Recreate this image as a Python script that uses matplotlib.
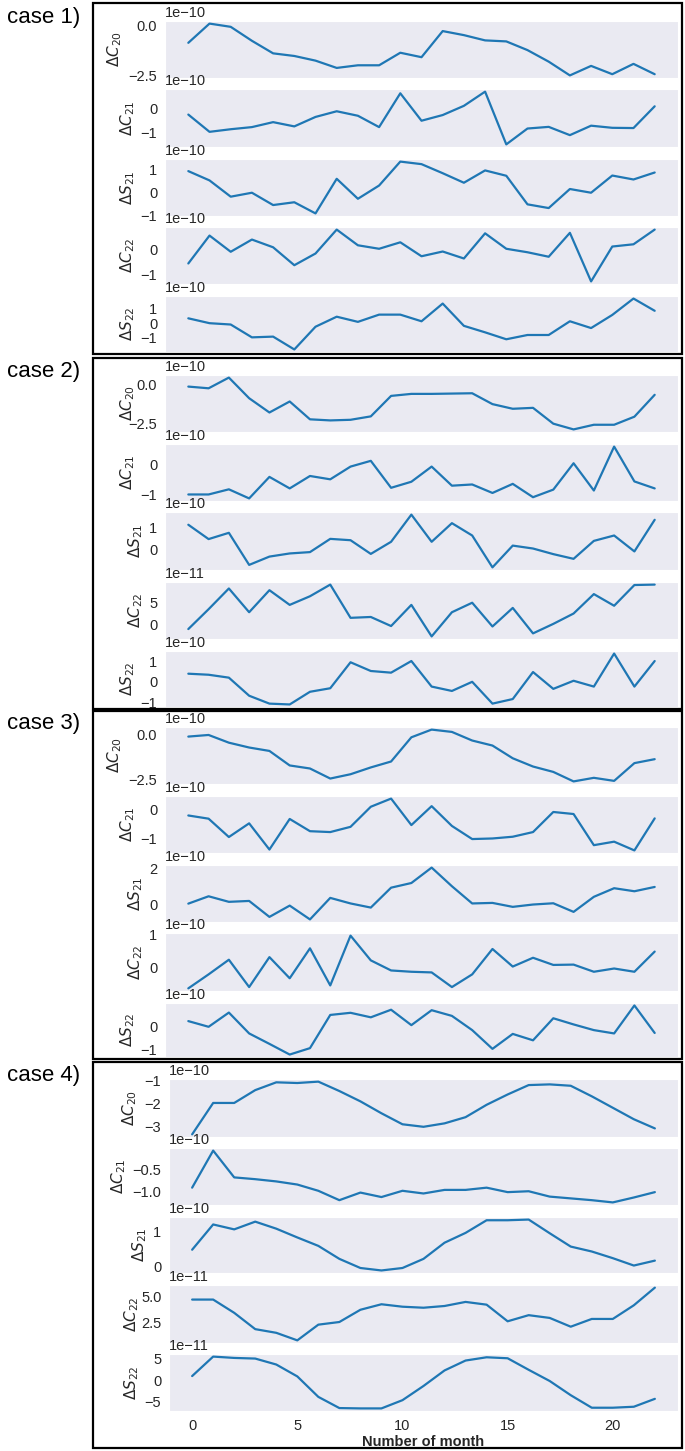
import matplotlib
matplotlib.use("Agg")
import matplotlib.pyplot as plt
import seaborn as sns
import numpy as np
from matplotlib.ticker import FixedLocator
from matplotlib.patches import Rectangle

sns.set_style("dark")
plt.rcParams['font.family'] = ['Liberation Sans', 'DejaVu Sans']

# ---------------- data (values in units of the offset shown on each axis) ----
coef_labels = [r'$\Delta C_{20}$', r'$\Delta C_{21}$', r'$\Delta S_{21}$',
               r'$\Delta C_{22}$', r'$\Delta S_{22}$']
case_names = ['case 1)', 'case 2)', 'case 3)', 'case 4)']

# case 1 (x 1e-10)
c1_C20 = [-0.87, 0.08, -0.08, -0.77, -1.39, -1.52, -1.75, -2.11, -1.98, -1.98, -1.36, -1.58,
          -0.29, -0.49, -0.75, -0.80, -1.23, -1.80, -2.48, -2.01, -2.42, -1.91, -2.42]
c1_C21 = [-0.24, -0.97, -0.86, -0.77, -0.56, -0.74, -0.34, -0.10, -0.29, -0.77, 0.66, -0.50,
          -0.26, 0.13, 0.73, -1.50, -0.83, -0.76, -1.11, -0.71, -0.80, -0.81, 0.11]
c1_S21 = [0.93, 0.53, -0.17, 0.00, -0.53, -0.41, -0.89, 0.60, -0.26, 0.31, 1.34, 1.23,
          0.84, 0.43, 0.96, 0.73, -0.50, -0.66, 0.16, 0.00, 0.74, 0.57, 0.87]
c1_C22 = [-0.56, 0.56, -0.09, 0.40, 0.09, -0.63, -0.16, 0.80, 0.17, 0.03, 0.29, -0.27,
          -0.08, -0.36, 0.65, 0.03, -0.11, -0.29, 0.67, -1.28, 0.12, 0.21, 0.80]
c1_S22 = [0.33, 0.00, -0.09, -0.96, -0.91, -1.78, -0.24, 0.44, 0.09, 0.58, 0.58, 0.13,
          1.33, -0.18, -0.62, -1.09, -0.80, -0.80, 0.13, -0.33, 0.56, 1.67, 0.84]

# case 2 (x 1e-10, C22 x 1e-11)
c2_C20 = [-0.15, -0.26, 0.43, -0.90, -1.82, -1.11, -2.26, -2.33, -2.29, -2.07, -0.75, -0.62,
          -0.62, -0.60, -0.58, -1.28, -1.58, -1.52, -2.54, -2.91, -2.61, -2.61, -2.09, -0.68]
c2_C21 = [-1.00, -1.00, -0.83, -1.13, -0.42, -0.80, -0.39, -0.50, -0.08, 0.11, -0.78, -0.58,
          -0.08, -0.71, -0.67, -0.95, -0.65, -1.09, -0.84, 0.03, -0.87, 0.58, -0.57, -0.80]
c2_S21 = [1.12, 0.48, 0.76, -0.67, -0.30, -0.16, -0.10, 0.49, 0.43, -0.18, 0.36, 1.57,
          0.36, 1.19, 0.64, -0.78, 0.19, 0.06, -0.19, -0.40, 0.40, 0.64, -0.07, 1.34]
c2_C22 = [-1.1, 3.5, 8.3, 2.8, 7.9, 4.5, 6.5, 9.2, 1.5, 1.7, -0.4, 4.5,
          -2.8, 2.8, 5.0, -0.5, 3.8, -2.1, 0.1, 2.5, 7.0, 4.3, 9.1, 9.2]
c2_S22 = [0.39, 0.34, 0.20, -0.67, -1.05, -1.09, -0.48, -0.31, 0.94, 0.52, 0.44, 1.00,
          -0.23, -0.44, 0.00, -1.05, -0.83, 0.47, -0.34, 0.05, -0.23, 1.36, -0.23, 1.00]

# case 3 (x 1e-10)
c3_C20 = [-0.09, 0.00, -0.43, -0.70, -0.89, -1.70, -1.87, -2.43, -2.19, -1.81, -1.48, -0.13,
          0.30, 0.17, -0.31, -0.59, -1.30, -1.76, -2.06, -2.59, -2.39, -2.56, -1.57, -1.35]
c3_C21 = [-0.21, -0.32, -0.95, -0.48, -1.38, -0.33, -0.75, -0.78, -0.60, 0.09, 0.37, -0.54,
          0.11, -0.57, -1.02, -1.00, -0.94, -0.78, -0.09, -0.16, -1.23, -1.11, -1.41, -0.31]
c3_S21 = [0.05, 0.46, 0.15, 0.20, -0.69, -0.06, -0.83, 0.37, 0.06, -0.17, 0.94, 1.20,
          2.06, 1.02, 0.06, 0.09, -0.13, 0.00, 0.07, -0.41, 0.43, 0.91, 0.74, 0.98]
c3_C22 = [-0.65, -0.22, 0.23, -0.61, 0.31, -0.34, 0.58, -0.56, 0.97, 0.21, -0.10, -0.14,
          -0.16, -0.61, -0.22, 0.56, 0.02, 0.29, 0.07, 0.08, -0.14, -0.04, -0.14, 0.48]
c3_S22 = [0.21, -0.03, 0.57, -0.31, -0.75, -1.20, -0.93, 0.47, 0.56, 0.37, 0.69, 0.04,
          0.67, 0.43, -0.17, -0.96, -0.33, -0.60, 0.33, 0.07, -0.17, -0.31, 0.87, -0.29]

# case 4 (x 1e-10, C22 and S22 x 1e-11)
c4_C20 = [-3.33, -1.96, -1.96, -1.40, -1.06, -1.09, -1.03, -1.44, -1.89, -2.41, -2.89, -3.00,
          -2.85, -2.58, -2.04, -1.59, -1.18, -1.15, -1.21, -1.67, -2.17, -2.67, -3.07]
c4_C21 = [-0.91, -0.08, -0.68, -0.72, -0.77, -0.84, -0.98, -1.19, -1.02, -1.12, -0.98, -1.04,
          -0.96, -0.96, -0.91, -1.01, -0.99, -1.11, -1.15, -1.19, -1.24, -1.13, -1.01]
c4_S21 = [0.47, 1.19, 1.05, 1.27, 1.07, 0.82, 0.58, 0.21, -0.05, -0.12, -0.05, 0.21,
          0.67, 0.95, 1.31, 1.31, 1.33, 0.94, 0.56, 0.42, 0.23, 0.02, 0.16]
c4_C22 = [4.73, 4.73, 3.43, 1.83, 1.47, 0.73, 2.27, 2.53, 3.73, 4.27, 4.03, 3.93,
          4.10, 4.50, 4.23, 2.60, 3.20, 2.93, 2.07, 2.83, 2.83, 4.17, 5.90]
c4_S22 = [1.00, 5.54, 5.23, 5.08, 3.69, 0.92, -3.85, -6.46, -6.54, -6.54, -4.62, -1.31,
          2.31, 4.62, 5.38, 5.15, 2.46, -0.15, -3.46, -6.38, -6.38, -6.15, -4.31]

cases = [
    [c1_C20, c1_C21, c1_S21, c1_C22, c1_S22],
    [c2_C20, c2_C21, c2_S21, c2_C22, c2_S22],
    [c3_C20, c3_C21, c3_S21, c3_C22, c3_S22],
    [c4_C20, c4_C21, c4_S21, c4_C22, c4_S22],
]
scales = [
    [1e-10, 1e-10, 1e-10, 1e-10, 1e-10],
    [1e-10, 1e-10, 1e-10, 1e-11, 1e-10],
    [1e-10, 1e-10, 1e-10, 1e-10, 1e-10],
    [1e-10, 1e-10, 1e-10, 1e-11, 1e-11],
]
yticks = [
    [[-2.5, 0.0], [-1, 0], [-1, 0, 1], [-1, 0], [-1, 0, 1]],
    [[-2.5, 0.0], [-1, 0], [0, 1], [0, 5], [-1, 0, 1]],
    [[-2.5, 0.0], [-1, 0], [0, 2], [0, 1], [-1, 0]],
    [[-3, -2, -1], [-1.0, -0.5], [0, 1], [2.5, 5.0], [-5, 0, 5]],
]
xticks = [0, 5, 10, 15, 20]

# ---------------- layout (pixels) ----------------
W, H = 685, 1451
fig = plt.figure(figsize=(W / 100, H / 100), dpi=100)

def fx(px):
    return px / W

def fy(py):
    return 1 - py / H

ax_rows = [
    [(21, 78), (89, 147), (159, 216), (227, 284), (296, 352)],
    [(375, 432), (444, 501), (512, 570), (582, 639), (651, 707)],
    [(727, 784), (796, 853), (865, 922), (933, 991), (1003, 1057)],
    [(1079, 1137), (1148, 1205), (1217, 1273), (1285, 1343), (1354, 1411)],
]
ax_left = [165, 165, 165, 169]
ax_right = 678
# explicit y-label right-edge pixel positions where the reference deviates from default
label_x_override = {(1, 0): 137, (3, 3): 141, (3, 0): 139}
boxes = [(3, 354), (358, 709), (711, 1059), (1062, 1448)]
box_left, box_right = 93, 682
label_y = [18, 371, 724, 1076]

line_color = '#1f77b4'
for ci in range(4):
    for ri in range(5):
        top, bot = ax_rows[ci][ri]
        l = ax_left[ci]
        ax = fig.add_axes([fx(l), fy(bot), fx(ax_right) - fx(l), (bot - top) / H])
        vals = np.asarray(cases[ci][ri]) * scales[ci][ri]
        months = np.arange(len(vals))
        ax.plot(months, vals, color=line_color, lw=1.6)
        ax.yaxis.set_major_locator(FixedLocator(np.asarray(yticks[ci][ri]) * scales[ci][ri]))
        ax.tick_params(axis='both', labelsize=10.5, colors='#262626', pad=2)
        ax.yaxis.get_offset_text().set_fontsize(10.5)
        ax.set_ylabel(coef_labels[ri], fontsize=11, labelpad=3)
        if (ci, ri) in label_x_override:
            xr = label_x_override[(ci, ri)]
            ax.yaxis.set_label_coords((xr - l) / (ax_right - l), 0.5)
        ax.set_xticks(xticks)
        if ci == 3 and ri == 4:
            ax.set_xlabel('Number of month', fontsize=10.5, fontweight='bold', labelpad=2)
        else:
            ax.tick_params(axis='x', labelbottom=False)
    btop, bbot = boxes[ci]
    fig.add_artist(Rectangle((fx(box_left), fy(bbot)), fx(box_right) - fx(box_left),
                             (bbot - btop) / H, transform=fig.transFigure,
                             fill=False, ec='black', lw=1.6))
    fig.text(fx(7), fy(label_y[ci]), case_names[ci], fontsize=16, ha='left', va='center',
             color='black')

fig.savefig('out.png', dpi=100)
